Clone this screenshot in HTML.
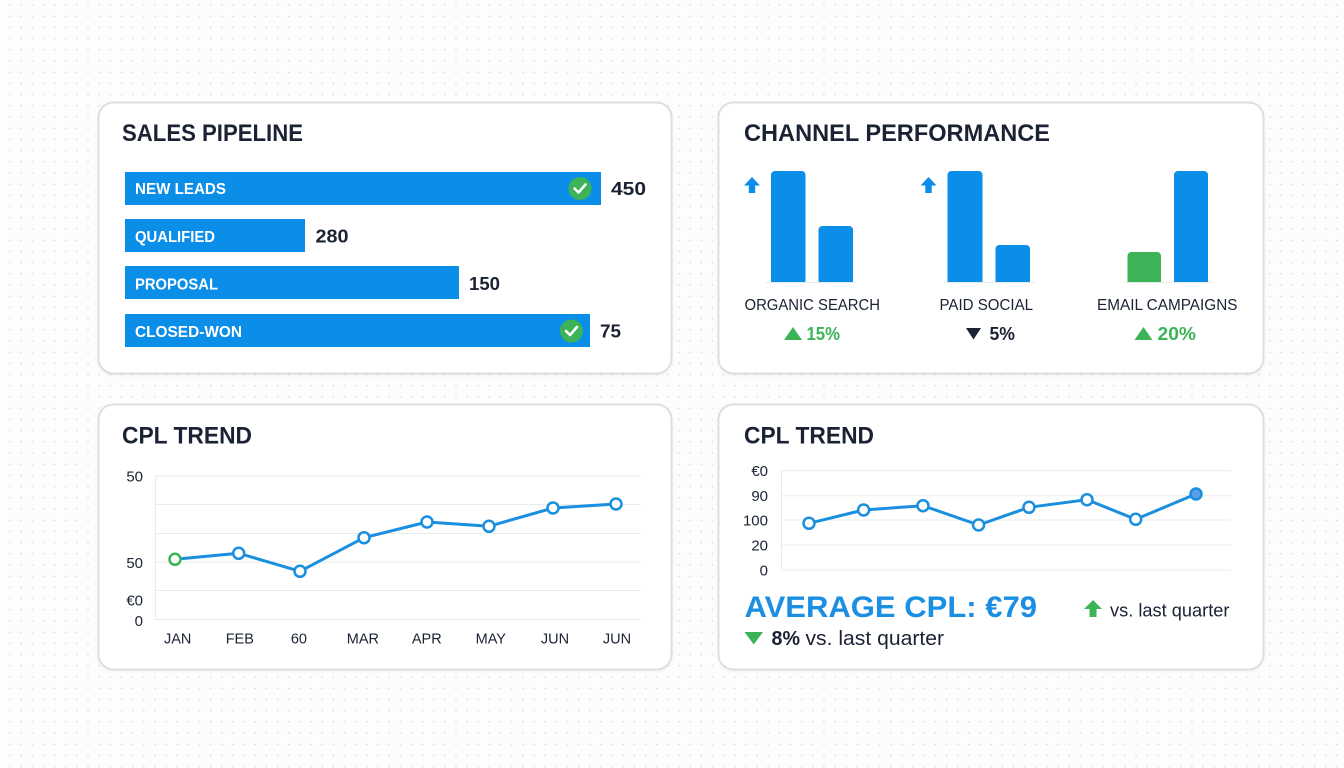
<!DOCTYPE html>
<html><head><meta charset="utf-8"><style>
html,body{margin:0;padding:0;background:#fdfdfe;}
svg{display:block;}
text{font-family:"Liberation Sans",sans-serif;}
</style></head><body>
<svg width="1344" height="768" viewBox="0 0 1344 768" xmlns="http://www.w3.org/2000/svg">
<defs>
<pattern id="dots" x="4.4" y="-0.6" width="11.15" height="11.2" patternUnits="userSpaceOnUse">
<circle cx="5.6" cy="5.6" r="0.9" fill="#d8dce1"/>
</pattern>
<filter id="sh" x="-5%" y="-5%" width="110%" height="115%">
<feDropShadow dx="0" dy="1" stdDeviation="1.5" flood-color="#000" flood-opacity="0.05"/>
</filter>
</defs>
<rect width="1344" height="768" fill="#fdfdfe"/>
<rect width="1344" height="768" fill="url(#dots)"/>

<!-- Cards -->
<rect x="98.5" y="102.5" width="573" height="271" rx="15" fill="#fff" stroke="#dcdfe3" stroke-width="2" filter="url(#sh)"/>
<rect x="718.5" y="102.5" width="545" height="271" rx="15" fill="#fff" stroke="#dcdfe3" stroke-width="2" filter="url(#sh)"/>
<rect x="98.5" y="404.5" width="573" height="265" rx="15" fill="#fff" stroke="#dcdfe3" stroke-width="2" filter="url(#sh)"/>
<rect x="718.5" y="404.5" width="545" height="265" rx="15" fill="#fff" stroke="#dcdfe3" stroke-width="2" filter="url(#sh)"/>

<!-- Card 1: Sales pipeline -->
<text x="122" y="141" font-size="24" font-weight="bold" fill="#1a2233" textLength="181" lengthAdjust="spacingAndGlyphs">SALES PIPELINE</text>
<rect x="125" y="172" width="476" height="33" fill="#0b8ee8"/>
<rect x="125" y="219" width="180" height="33" fill="#0b8ee8"/>
<rect x="125" y="266" width="334" height="33" fill="#0b8ee8"/>
<rect x="125" y="314" width="465" height="33" fill="#0b8ee8"/>
<text x="135" y="194" font-size="16" font-weight="bold" fill="#fff" textLength="91" lengthAdjust="spacingAndGlyphs">NEW LEADS</text>
<text x="135" y="242" font-size="16" font-weight="bold" fill="#fff" textLength="80" lengthAdjust="spacingAndGlyphs">QUALIFIED</text>
<text x="135" y="289.5" font-size="16" font-weight="bold" fill="#fff" textLength="83" lengthAdjust="spacingAndGlyphs">PROPOSAL</text>
<text x="135" y="337" font-size="16" font-weight="bold" fill="#fff" textLength="107" lengthAdjust="spacingAndGlyphs">CLOSED-WON</text>
<circle cx="580" cy="188.5" r="11.5" fill="#3cb356"/>
<polyline points="574.5,188.5 578.5,192.5 585.5,184.5" fill="none" stroke="#fff" stroke-width="2.6" stroke-linecap="round" stroke-linejoin="round"/>
<circle cx="571.5" cy="331" r="11.5" fill="#3cb356"/>
<polyline points="566,331 570,335 577,327" fill="none" stroke="#fff" stroke-width="2.6" stroke-linecap="round" stroke-linejoin="round"/>
<text x="611" y="195" font-size="18" font-weight="bold" fill="#1a2233" textLength="35" lengthAdjust="spacingAndGlyphs">450</text>
<text x="315.5" y="242.5" font-size="18" font-weight="bold" fill="#1a2233" textLength="33" lengthAdjust="spacingAndGlyphs">280</text>
<text x="469" y="290" font-size="18" font-weight="bold" fill="#1a2233" textLength="31" lengthAdjust="spacingAndGlyphs">150</text>
<text x="600" y="337.5" font-size="18" font-weight="bold" fill="#1a2233" textLength="21" lengthAdjust="spacingAndGlyphs">75</text>

<!-- Card 2: Channel performance -->
<text x="744" y="141" font-size="24" font-weight="bold" fill="#1a2233" textLength="306" lengthAdjust="spacingAndGlyphs">CHANNEL PERFORMANCE</text>
<line x1="766" y1="282.5" x2="856" y2="282.5" stroke="#e6e9ec" stroke-width="1"/>
<line x1="944" y1="282.5" x2="1035" y2="282.5" stroke="#e6e9ec" stroke-width="1"/>
<line x1="1124" y1="282.5" x2="1212" y2="282.5" stroke="#e6e9ec" stroke-width="1"/>
<path d="M771,282 V175 a4,4 0 0 1 4,-4 H801.5 a4,4 0 0 1 4,4 V282 Z" fill="#0b8ee8"/>
<path d="M818.5,282 V230 a4,4 0 0 1 4,-4 H849 a4,4 0 0 1 4,4 V282 Z" fill="#0b8ee8"/>
<path d="M947.5,282 V175 a4,4 0 0 1 4,-4 H978.5 a4,4 0 0 1 4,4 V282 Z" fill="#0b8ee8"/>
<path d="M995.5,282 V249 a4,4 0 0 1 4,-4 H1026 a4,4 0 0 1 4,4 V282 Z" fill="#0b8ee8"/>
<path d="M1127.5,282 V256 a4,4 0 0 1 4,-4 H1157 a4,4 0 0 1 4,4 V282 Z" fill="#3cb356"/>
<path d="M1174,282 V175 a4,4 0 0 1 4,-4 H1204 a4,4 0 0 1 4,4 V282 Z" fill="#0b8ee8"/>
<path d="M752,177 L760,185.5 H755.2 V193 H748.8 V185.5 H744 Z" fill="#0b8ee8"/>
<path d="M928.5,177 L936.5,185.5 H931.7 V193 H925.3 V185.5 H920.5 Z" fill="#0b8ee8"/>
<text x="744.5" y="310" font-size="15.5" fill="#1a2233" textLength="135.5" lengthAdjust="spacingAndGlyphs">ORGANIC SEARCH</text>
<text x="939.5" y="310" font-size="15.5" fill="#1a2233" textLength="93.5" lengthAdjust="spacingAndGlyphs">PAID SOCIAL</text>
<text x="1097" y="310" font-size="15.5" fill="#1a2233" textLength="140.5" lengthAdjust="spacingAndGlyphs">EMAIL CAMPAIGNS</text>
<polygon points="793,327 802,340 784,340" fill="#3cb356"/>
<text x="806.5" y="340" font-size="18" font-weight="bold" fill="#3cb356" textLength="33.5" lengthAdjust="spacingAndGlyphs">15%</text>
<polygon points="966,328 981,328 973.5,339.5" fill="#1a2233"/>
<text x="989.5" y="340" font-size="18" font-weight="bold" fill="#1a2233" textLength="25.5" lengthAdjust="spacingAndGlyphs">5%</text>
<polygon points="1143.5,327 1152.5,340 1134.5,340" fill="#3cb356"/>
<text x="1157.5" y="340" font-size="18" font-weight="bold" fill="#3cb356" textLength="38.5" lengthAdjust="spacingAndGlyphs">20%</text>

<!-- Card 3: CPL trend -->
<text x="122" y="443.5" font-size="24" font-weight="bold" fill="#1a2233" textLength="130" lengthAdjust="spacingAndGlyphs">CPL TREND</text>
<g stroke="#e8ebee" stroke-width="1">
<line x1="155" y1="476" x2="641" y2="476"/>
<line x1="155" y1="504.5" x2="641" y2="504.5"/>
<line x1="155" y1="533.5" x2="641" y2="533.5"/>
<line x1="155" y1="562" x2="641" y2="562"/>
<line x1="155" y1="590.5" x2="641" y2="590.5"/>
<line x1="155" y1="619.5" x2="641" y2="619.5"/>
<line x1="155.5" y1="476" x2="155.5" y2="620"/>
</g>
<g font-size="15" fill="#1a2233" text-anchor="end">
<text x="143" y="481.5">50</text>
<text x="143" y="568">50</text>
<text x="143" y="605.5">€0</text>
<text x="143" y="626">0</text>
</g>
<g font-size="14.5" fill="#1a2233" text-anchor="middle">
<text x="177.7" y="643.5">JAN</text>
<text x="239.8" y="643.5">FEB</text>
<text x="298.9" y="643.5">60</text>
<text x="362.9" y="643.5">MAR</text>
<text x="426.8" y="643.5">APR</text>
<text x="490.8" y="643.5">MAY</text>
<text x="555" y="643.5">JUN</text>
<text x="617" y="643.5">JUN</text>
</g>
<polyline points="175,559.3 238.7,553.3 300,571.3 364,537.7 427,522 489,526.3 553,508 616,504" fill="none" stroke="#1a8fe0" stroke-width="3" stroke-linejoin="round"/>
<g fill="#fff" stroke="#1a8fe0" stroke-width="2.5">
<circle cx="175" cy="559.3" r="5.5" stroke="#3cb356"/>
<circle cx="238.7" cy="553.3" r="5.5"/>
<circle cx="300" cy="571.3" r="5.5"/>
<circle cx="364" cy="537.7" r="5.5"/>
<circle cx="427" cy="522" r="5.5"/>
<circle cx="489" cy="526.3" r="5.5"/>
<circle cx="553" cy="508" r="5.5"/>
<circle cx="616" cy="504" r="5.5"/>
</g>

<!-- Card 4: CPL trend with average -->
<text x="744" y="443.5" font-size="24" font-weight="bold" fill="#1a2233" textLength="130" lengthAdjust="spacingAndGlyphs">CPL TREND</text>
<g stroke="#e8ebee" stroke-width="1">
<line x1="781" y1="470.7" x2="1231" y2="470.7"/>
<line x1="781" y1="495.7" x2="1231" y2="495.7"/>
<line x1="781" y1="520" x2="1231" y2="520"/>
<line x1="781" y1="545" x2="1231" y2="545"/>
<line x1="781" y1="570" x2="1231" y2="570"/>
<line x1="781.5" y1="470.7" x2="781.5" y2="570"/>
</g>
<g font-size="15" fill="#1a2233" text-anchor="end">
<text x="768" y="476">€0</text>
<text x="768" y="501">90</text>
<text x="768" y="525.5">100</text>
<text x="768" y="550.5">20</text>
<text x="768" y="575.5">0</text>
</g>
<polyline points="809,523.3 863.6,510 923,505.7 978.6,525 1029,507.3 1087,499.7 1135.7,519.3 1196,494" fill="none" stroke="#1a8fe0" stroke-width="3" stroke-linejoin="round"/>
<g fill="#fff" stroke="#1a8fe0" stroke-width="2.5">
<circle cx="809" cy="523.3" r="5.5"/>
<circle cx="863.6" cy="510" r="5.5"/>
<circle cx="923" cy="505.7" r="5.5"/>
<circle cx="978.6" cy="525" r="5.5"/>
<circle cx="1029" cy="507.3" r="5.5"/>
<circle cx="1087" cy="499.7" r="5.5"/>
<circle cx="1135.7" cy="519.3" r="5.5"/>
<circle cx="1196" cy="494" r="5.5" fill="#5b9ee8"/>
</g>
<text x="744.5" y="617" font-size="30" font-weight="bold" fill="#1a8fe3" textLength="292.5" lengthAdjust="spacingAndGlyphs">AVERAGE CPL: €79</text>
<path d="M1093,600 L1102,609 H1096.5 V617 H1089.5 V609 H1084 Z" fill="#3cb356"/>
<text x="1110" y="616.5" font-size="18" fill="#1a2233" textLength="119.5" lengthAdjust="spacingAndGlyphs">vs. last quarter</text>
<polygon points="744.5,632 763,632 753.7,644.5" fill="#3cb356"/>
<text x="771.5" y="645" font-size="20" font-weight="bold" fill="#1a2233" textLength="28.5" lengthAdjust="spacingAndGlyphs">8%</text>
<text x="805.5" y="645" font-size="20" fill="#1a2233" textLength="138.5" lengthAdjust="spacingAndGlyphs">vs. last quarter</text>
</svg>
</body></html>
